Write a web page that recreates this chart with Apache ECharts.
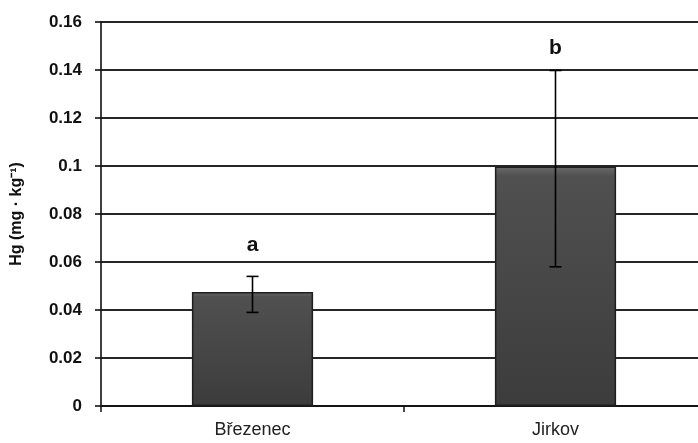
<!DOCTYPE html>
<html><head><meta charset="utf-8">
<script src="https://cdn.jsdelivr.net/npm/echarts@6/dist/echarts.min.js"></script>
<style>html,body{margin:0;padding:0;background:#fff}#c{width:698px;height:443px}</style>
</head><body><div id="c"></div>
<script>
var categories = ["Březenec", "Jirkov"];
var means = [0.0475, 0.0998];
var errLow = [0.039, 0.058];
var errHigh = [0.054, 0.1398];
var letters = ["a", "b"];
var letterY = [0.0671, 0.1489];
var yTicks = {min: 0, max: 0.16, interval: 0.02};

var chart = echarts.init(document.getElementById('c'));
chart.setOption({
  animation: false,
  grid: {left: 101, top: 22, bottom: 37, right: -9, outerBoundsMode: 'none', containLabel: false},
  xAxis: {
    type: 'category', data: categories, boundaryGap: true,
    axisLine: {lineStyle: {color: '#111', width: 1.6}},
    axisTick: {show: true, inside: false, length: 6, lineStyle: {color: '#111', width: 1.5}},
    axisLabel: {color: '#222', fontFamily: 'Liberation Sans, Arial', fontSize: 18, margin: 15}
  },
  yAxis: {
    type: 'value', min: yTicks.min, max: yTicks.max, interval: yTicks.interval,
    name: 'Hg (mg · kg⁻¹)', nameLocation: 'middle', nameGap: 76, nameRotate: 90,
    nameTextStyle: {color: '#111', fontFamily: 'Liberation Sans, Arial', fontWeight: 'bold', fontSize: 16},
    axisLine: {show: true, lineStyle: {color: '#111', width: 1.6}},
    axisTick: {show: true, length: 6, lineStyle: {color: '#111', width: 1.6}},
    axisLabel: {color: '#111', fontFamily: 'Liberation Sans, Arial', fontWeight: 'bold', fontSize: 17, margin: 19},
    splitLine: {show: true, lineStyle: {color: '#262626', width: 1.8}}
  },
  series: [
    {
      type: 'bar', data: means, barWidth: '40%',
      itemStyle: {
        color: new echarts.graphic.LinearGradient(0, 0, 0, 1, [
          {offset: 0, color: '#6a6a6a'}, {offset: 0.04, color: '#505050'}, {offset: 1, color: '#3c3c3c'}
        ]),
        borderColor: '#1e1e1e', borderWidth: 1.5
      },
      z: 2
    },
    {
      type: 'custom', z: 5,
      data: categories.map(function (c, i) { return [i, errLow[i], errHigh[i], letterY[i]]; }),
      renderItem: function (params, api) {
        var lo = api.coord([api.value(0), api.value(1)]);
        var hi = api.coord([api.value(0), api.value(2)]);
        var lt = api.coord([api.value(0), api.value(3)]);
        var hw = 6;
        var st = {stroke: '#000', lineWidth: 1.6};
        return {type: 'group', children: [
          {type: 'line', shape: {x1: lo[0], y1: lo[1], x2: hi[0], y2: hi[1]}, style: st},
          {type: 'line', shape: {x1: lo[0] - hw, y1: lo[1], x2: lo[0] + hw, y2: lo[1]}, style: st},
          {type: 'line', shape: {x1: hi[0] - hw, y1: hi[1], x2: hi[0] + hw, y2: hi[1]}, style: st},
          {type: 'text', style: {text: letters[params.dataIndex], x: lt[0], y: lt[1], align: 'center', verticalAlign: 'middle',
            fill: '#111', font: 'bold 21px Liberation Sans, Arial'}}
        ]};
      }
    }
  ]
});
</script></body></html>
